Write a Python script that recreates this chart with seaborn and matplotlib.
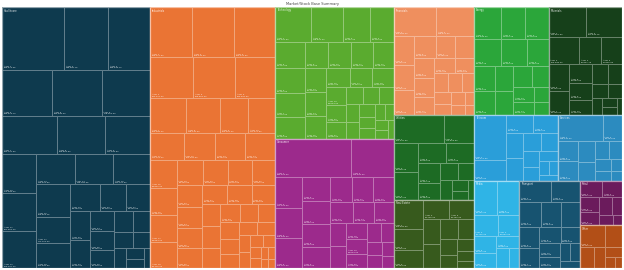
import matplotlib
matplotlib.use("Agg")
import matplotlib.pyplot as plt
from matplotlib.patches import Rectangle
import matplotlib.colors as mcolors
import seaborn as sns

sns.set_theme(style="white")
plt.rcParams['font.family'] = ['DejaVu Sans']

TITLE = "Market/Stock Base Summary"

groups = ["Healthcare", "Industrials", "Technology", "Consumer", "Financials",
          "Energy", "Materials", "Utilities", "Real Estate", "Telecom",
          "Services", "Media", "Transport", "Retail", "Other"]
group_values = [38480, 32500, 15600, 15340, 8640, 7992, 7884, 6800, 5440,
                5525, 4225, 3960, 5280, 1890, 1806]
group_colors = ["#0e3a4e", "#ea7434", "#5aab2f", "#9c2a8c", "#ef8f5e",
                "#2ba63a", "#16401a", "#1d6b24", "#375a1d", "#2a9ed9",
                "#2c8bbf", "#2fb4e6", "#175370", "#6b1b5c", "#b24f17"]

navy_items = [3969, 2835, 2646, 2346, 2300, 2254, 2128, 1862, 1710, 1394, 1312,
              1292, 1190, 1189, 1148, 1107, 900, 850, 800, 700, 650, 600, 560,
              520, 480, 440, 400, 360, 320, 280, 240, 200, 160, 120]
orange_items = [2150, 2100, 2050, 1800, 1700, 1650, 1300, 1200, 1000, 950, 900,
                850, 800, 780, 760, 740, 720, 700, 650, 620, 600, 580, 560, 540,
                520, 500, 480, 460, 440, 420, 400, 380, 360, 340, 320, 300, 280,
                260, 240, 220, 200, 180, 160, 140, 120, 100, 90, 80, 70, 60]
green_items = [1070, 960, 780, 700, 670, 650, 600, 560, 520, 500, 480, 460, 440,
               420, 400, 380, 360, 340, 320, 300, 280, 260, 240, 220, 200, 180,
               160, 150, 140, 130, 120, 110, 100, 90]
purple_items = [3080, 1720, 900, 880, 860, 700, 680, 650, 620, 600, 560, 540,
                500, 460, 420, 400, 380, 350, 320, 300, 280, 250, 220, 200, 180, 150]
salmon_items = [1300, 1180, 650, 560, 540, 520, 480, 450, 420, 400, 380, 350,
                320, 300, 280, 250, 220, 200, 180, 150, 120, 100]
green2_items = [840, 745, 730, 715, 700, 570, 520, 480, 450, 420, 380, 340, 300,
                260, 220, 180]
darkgreen_items = [1150, 1115, 840, 615, 590, 560, 500, 450, 400, 360, 320, 280,
                   240, 200, 170, 140, 110, 90]
medgreen_items = [1550, 930, 785, 750, 620, 600, 505, 400, 340, 300, 260, 200,
                  160, 120]
olive_items = [850, 650, 520, 500, 480, 420, 400, 360, 320, 280, 240, 200, 160, 120]
blue_items = [1470, 650, 500, 450, 420, 380, 340, 300, 260, 220, 180, 150, 120, 100]
steel_items = [1200, 520, 420, 400, 360, 320, 280, 240, 200, 160, 130, 100]
lightblue_items = [780, 750, 500, 450, 380, 330, 280, 240, 200]
teal_items = [700, 620, 560, 520, 480, 440, 400, 360, 320, 280, 240, 200, 170, 140]
darkpurple_items = [380, 340, 300, 260, 220, 180, 140, 100]
brown_items = [560, 380, 300, 220, 160, 120, 80]

children = [navy_items, orange_items, green_items, purple_items, salmon_items,
            green2_items, darkgreen_items, medgreen_items, olive_items,
            blue_items, steel_items, lightblue_items, teal_items,
            darkpurple_items, brown_items]


def worst(row, short):
    s = sum(row)
    return max(max(short * short * r / (s * s), s * s / (short * short * r)) for r in row)


def squarify(values, x, y, w, h):
    total = float(sum(values))
    sizes = [v * w * h / total for v in values]
    rects = []
    while sizes:
        short = min(w, h)
        row = [sizes[0]]
        i = 1
        while i < len(sizes) and worst(row + [sizes[i]], short) <= worst(row, short):
            row.append(sizes[i])
            i += 1
        s = sum(row)
        if w >= h:
            cw = s / h
            cy = y
            for r in row:
                rh = r / cw
                rects.append((x, cy, cw, rh))
                cy += rh
            x += cw
            w -= cw
        else:
            rh = s / w
            cx = x
            for r in row:
                rw = r / rh
                rects.append((cx, y, rw, rh))
                cx += rw
            y += rh
            h -= rh
        sizes = sizes[i:]
    return rects


def lighten(c, f):
    r, g, b = mcolors.to_rgb(c)
    return (r + (1 - r) * f, g + (1 - g) * f, b + (1 - b) * f)


W, H = 620.0, 261.0
fig = plt.figure(figsize=(6.24, 2.70), dpi=100)
ax = fig.add_axes([2 / 624, 2 / 270, W / 624, H / 270])
ax.set_xlim(0, W)
ax.set_ylim(H, 0)
ax.axis("off")

group_rects = squarify(group_values, 0, 0, W, H)
for gi, (gx, gy, gw, gh) in enumerate(group_rects):
    col = group_colors[gi]
    edge = lighten(col, 0.35)
    tiles = squarify(children[gi], gx, gy, gw, gh)
    for ti, (tx, ty, tw, th) in enumerate(tiles):
        ax.add_patch(Rectangle((tx, ty), tw, th, facecolor=col, edgecolor=edge,
                               linewidth=0.7))
        min_h = 16 if ti == 0 else 9
        if tw > 19 and th > min_h:
            val = children[gi][ti] * 123.45
            ax.text(tx + 1.8, ty + th - 1.5,
                    f"Item {ti + 1}\n{val:,.2f}",
                    fontsize=1.6, color="white", alpha=0.85, va="bottom",
                    ha="left", linespacing=1.1)
    ax.add_patch(Rectangle((gx, gy), gw, gh, facecolor="none",
                           edgecolor=lighten(col, 0.55), linewidth=0.9))
    ax.text(gx + 2, gy + 1.5, groups[gi], fontsize=1.8, color="white",
            alpha=0.9, va="top", ha="left")

fig.text(0.5, 1 - 4.5 / 270, TITLE, fontsize=2.6, color="#444444",
         ha="center", va="center")

fig.savefig("out.png", dpi=100, facecolor="white")
